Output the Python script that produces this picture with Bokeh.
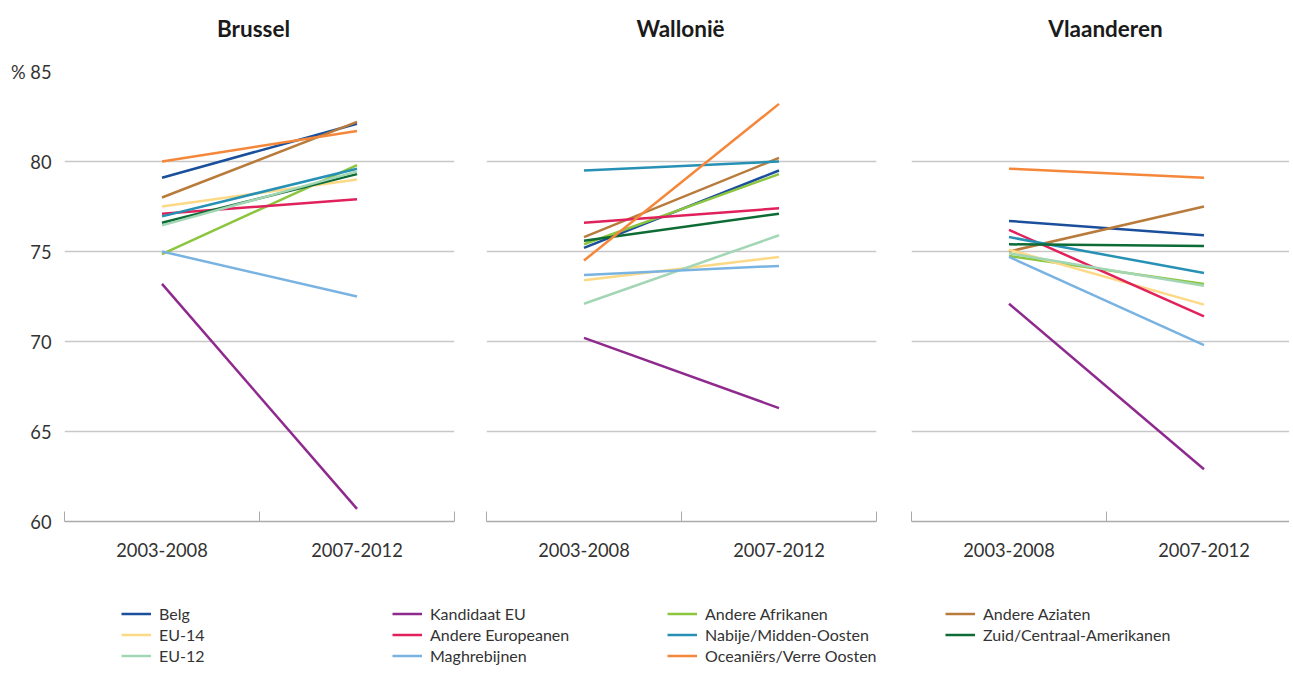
from bokeh.plotting import figure
from bokeh.models import Range1d, FixedTicker, Legend, LegendItem, Label
from bokeh.layouts import row, column
from bokeh.embed import file_html
from bokeh.resources import INLINE

# ---------------- data ----------------
categories = ["2003-2008", "2007-2012"]
regions = ["Brussel", "Wallonië", "Vlaanderen"]
series = ["Belg", "EU-14", "EU-12",
          "Kandidaat EU", "Andere Europeanen", "Maghrebijnen",
          "Andere Afrikanen", "Nabije/Midden-Oosten", "Oceaniërs/Verre Oosten",
          "Andere Aziaten", "Zuid/Centraal-Amerikanen"]
colors = ["#1b4f9c", "#fdd985", "#a3d6b4",
          "#8e2a8d", "#e0215c", "#79b3e2",
          "#8cc63f", "#2791b5", "#f5873a",
          "#b97b3c", "#0d6b36"]

brussel_2003_2008 = [79.1, 77.5, 76.45, 73.2, 77.1, 75.0, 74.85, 76.95, 80.0, 78.0, 76.6]
brussel_2007_2012 = [82.1, 79.0, 79.45, 60.7, 77.9, 72.5, 79.8, 79.6, 81.7, 82.2, 79.3]
wallonie_2003_2008 = [75.2, 73.4, 72.1, 70.2, 76.6, 73.7, 75.4, 79.5, 74.5, 75.8, 75.6]
wallonie_2007_2012 = [79.5, 74.7, 75.9, 66.3, 77.4, 74.2, 79.3, 80.0, 83.2, 80.2, 77.1]
vlaanderen_2003_2008 = [76.7, 75.1, 74.9, 72.1, 76.2, 74.7, 74.75, 75.8, 79.6, 75.0, 75.4]
vlaanderen_2007_2012 = [75.9, 72.05, 73.1, 62.9, 71.4, 69.8, 73.2, 73.8, 79.1, 77.5, 75.3]

y_ticks = [60, 65, 70, 75, 80, 85]

region_values = {
    "Brussel": (brussel_2003_2008, brussel_2007_2012),
    "Wallonië": (wallonie_2003_2008, wallonie_2007_2012),
    "Vlaanderen": (vlaanderen_2003_2008, vlaanderen_2007_2012),
}

# ---------------- style ----------------
FONT = "Lato"
TXT = "#333333"
GRID = "#c8c8c8"
AXIS = "#ababab"
LW = 2.5
PAGE_W = 1289

xpos = [i + 0.5 for i in range(len(categories))]
# (min_border_left, min_border_right, frame width)
specs = [(64, 16, 390), (16, 16, 390), (19, 0, 378)]
FULL_W = 390
TITLE_H = 42
TOP, FRAME_H, BOTTOM = 71 - TITLE_H, 450, 50

# ---------------- titles strip ----------------
tfig = figure(width=PAGE_W, height=TITLE_H, x_range=Range1d(0, 1), y_range=Range1d(0, 1),
              toolbar_location=None, output_backend="svg", min_border=0,
              x_axis_location=None, y_axis_location=None)
tfig.outline_line_color = None
tfig.xgrid.visible = False
tfig.ygrid.visible = False
title_cx = [253, 680, 1105]
for reg, cx in zip(regions, title_cx):
    tfig.add_layout(Label(x=cx, y=TITLE_H - 28, x_units="screen", y_units="screen",
                          text=reg, text_align="center", text_baseline="middle",
                          text_font=FONT, text_font_size="22.5px", text_font_style="bold",
                          text_color="#1a1a1a"))

# draw order (row-major as in the legend)
draw_order = [0, 3, 6, 9, 1, 4, 7, 10, 2, 5, 8]

figs = []
for k, reg in enumerate(regions):
    bl, br, fw = specs[k]
    xend = len(categories) * fw / FULL_W
    p = figure(width=bl + fw + br, height=TOP + FRAME_H + BOTTOM,
               x_range=Range1d(0, xend), y_range=Range1d(y_ticks[0], y_ticks[-1]),
               toolbar_location=None, output_backend="svg", title=None,
               y_axis_location="left" if k == 0 else None,
               min_border_left=bl, min_border_right=br,
               min_border_top=TOP, min_border_bottom=BOTTOM)
    p.outline_line_color = None
    p.background_fill_color = "white"
    p.border_fill_color = "white"

    # grid
    p.xgrid.visible = False
    p.ygrid.ticker = FixedTicker(ticks=y_ticks)
    p.ygrid.grid_line_color = GRID
    p.ygrid.grid_line_width = 1.3

    # x axis
    xa = p.xaxis[0]
    xa.ticker = FixedTicker(ticks=xpos, minor_ticks=list(range(len(categories) + 1)))
    xa.major_label_overrides = {x: c for x, c in zip(xpos, categories)}
    xa.major_tick_line_color = None
    xa.minor_tick_line_color = AXIS
    xa.minor_tick_in = 10
    xa.minor_tick_out = 0
    xa.axis_line_color = AXIS
    xa.axis_line_width = 1.3
    xa.major_label_text_font = FONT
    xa.major_label_text_font_size = "18.3px"
    xa.major_label_text_color = TXT
    xa.major_label_standoff = 15

    if k == 0:
        ya = p.yaxis[0]
        ya.ticker = FixedTicker(ticks=y_ticks)
        ya.major_label_overrides = {85: "% 85"}
        ya.axis_line_color = None
        ya.major_tick_line_color = None
        ya.minor_tick_line_color = None
        ya.major_label_text_font = FONT
        ya.major_label_text_font_size = "18.3px"
        ya.major_label_text_color = TXT
        ya.major_label_standoff = 7

    start, end = region_values[reg]
    for i in draw_order:
        p.line(x=xpos, y=[start[i], end[i]], line_color=colors[i], line_width=LW)
    figs.append(p)

# ---------------- legend ----------------
LEG_H = 100
leg = figure(width=PAGE_W, height=LEG_H, x_range=Range1d(0, 1), y_range=Range1d(0, 1),
             toolbar_location=None, output_backend="svg", min_border=0,
             x_axis_location=None, y_axis_location=None)
leg.outline_line_color = None
leg.xgrid.visible = False
leg.ygrid.visible = False

renderers = []
for i, name in enumerate(series):
    # drawn with real data but outside the (0,1) view: only used as legend proxies
    r = leg.line(x=xpos, y=[brussel_2003_2008[i], brussel_2007_2012[i]],
                 line_color=colors[i], line_width=LW)
    renderers.append(r)

col_x = [121, 392, 667, 945]
ROW_H = 21
top = 31.5
for c in range(4):
    idx = list(range(c * 3, min(c * 3 + 3, len(series))))
    items = [LegendItem(label=series[i], renderers=[renderers[i]]) for i in idx]
    n = len(items)
    lg = Legend(items=items, location=(col_x[c], LEG_H - top - n * ROW_H),
                orientation="vertical", padding=0, margin=0, spacing=0,
                glyph_width=30, glyph_height=ROW_H, label_height=ROW_H,
                label_standoff=8, border_line_color=None,
                background_fill_alpha=0,
                label_text_font=FONT, label_text_font_size="16px",
                label_text_color=TXT)
    leg.add_layout(lg, "center")

layout = column(tfig, row(*figs), leg)
open("out.html", "w").write(file_html(layout, INLINE))
